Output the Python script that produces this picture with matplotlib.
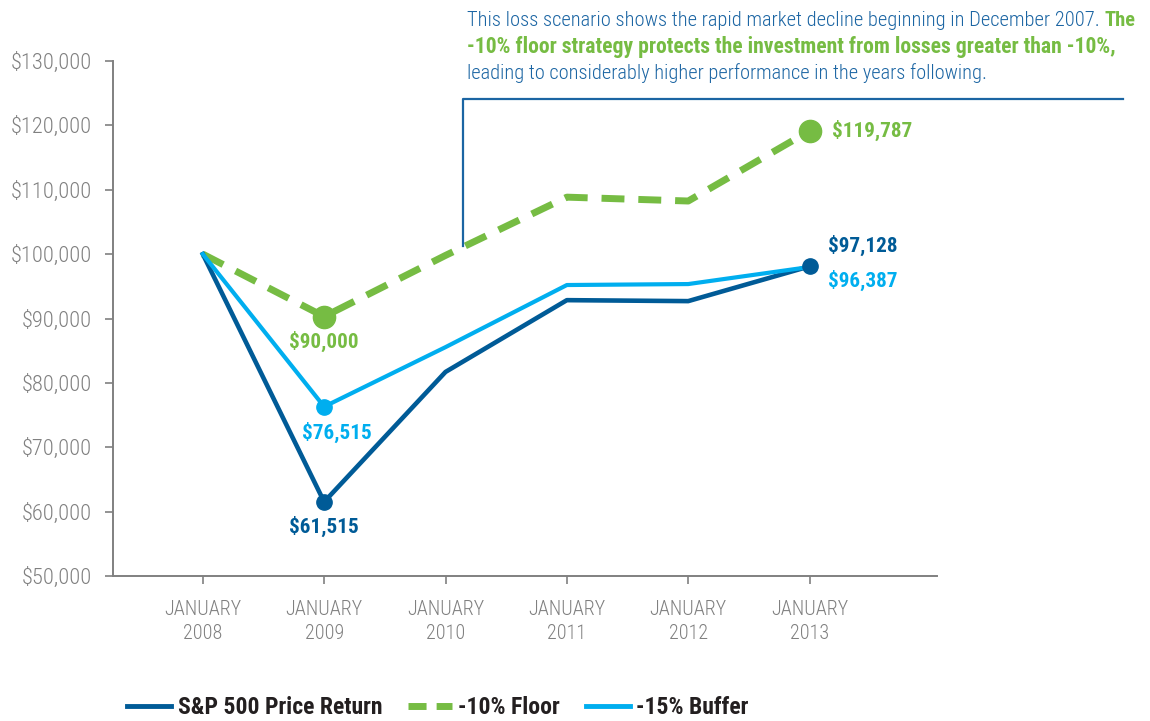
import matplotlib
matplotlib.use("Agg")
import matplotlib.pyplot as plt
from matplotlib.lines import Line2D

# ---------------- data ----------------
years = [2008, 2009, 2010, 2011, 2012, 2013]
tick_labels = ["JANUARY\n2008", "JANUARY\n2009", "JANUARY\n2010",
               "JANUARY\n2011", "JANUARY\n2012", "JANUARY\n2013"]
sp500 = [100000, 61515, 81700, 92850, 92700, 98100]
floor10 = [100000, 90300, 99800, 108850, 108250, 119150]
buffer15 = [100000, 76300, 85550, 95200, 95350, 98000]
yticks = [50000, 60000, 70000, 80000, 90000, 100000, 110000, 120000, 130000]

label_sp_low = "$61,515"
label_sp_end = "$97,128"
label_fl_low = "$90,000"
label_fl_end = "$119,787"
label_bf_low = "$76,515"
label_bf_end = "$96,387"

series_names = ["S&P 500 Price Return", "-10% Floor", "-15% Buffer"]

note_line1 = "This loss scenario shows the rapid market decline beginning in December 2007. "
note_line1_end = "The"
note_line2 = "-10% floor strategy protects the investment from losses greater than -10%,"
note_line3 = "leading to considerably higher performance in the years following."

# ---------------- style ----------------
C_SP = "#005b97"
C_FL = "#76bc43"
C_BF = "#00aeef"
C_TXT = "#1b65a3"
C_GREY = "#808080"

FAM = ["Roboto Condensed", "DejaVu Sans"]
plt.rcParams["font.family"] = FAM

W, H = 1150, 721
fig = plt.figure(figsize=(W / 100, H / 100), dpi=100)
ax = fig.add_axes([113 / W, 1 - 576 / H, (937 - 113) / W, (576 - 61) / H])

ax.set_xlim(2007.26, 2014.05)
ax.set_ylim(50000, 130000)

ax.plot(years, sp500, color=C_SP, lw=3.3, zorder=3)
ax.plot(years, buffer15, color=C_BF, lw=3.0, zorder=3)
fl_line, = ax.plot(years, floor10, color=C_FL, lw=5, zorder=2)
fl_line.set_dashes((3.3, 2.0))

# markers
ax.plot([years[1], years[5]], [sp500[1], sp500[5]], "o", color=C_SP, ms=11, zorder=5)
ax.plot([years[1]], [buffer15[1]], "o", color=C_BF, ms=11, zorder=4)
ax.plot([years[1], years[5]], [floor10[1], floor10[5]], "o", color=C_FL, ms=16, zorder=4)

def lab(txt, x, y, dx, dy, color, ha="center"):
    ax.annotate(txt, (x, y), xytext=(dx, dy), textcoords="offset pixels",
                ha=ha, va="center", color=color, fontsize=15.2, fontweight="bold",
                annotation_clip=False)

lab(label_fl_low, years[1], floor10[1], 0, -25, C_FL)
lab(label_bf_low, years[1], buffer15[1], 13, -26, C_BF)
lab(label_sp_low, years[1], sp500[1], 0, -25, C_SP)
lab(label_fl_end, years[5], floor10[5], 22, 0, C_FL, ha="left")
lab(label_sp_end, years[5], sp500[5], 18, 21, C_SP, ha="left")
lab(label_bf_end, years[5], sp500[5], 18, -14, C_BF, ha="left")

# axes styling
for s in ["top", "right"]:
    ax.spines[s].set_visible(False)
for s in ["left", "bottom"]:
    ax.spines[s].set_color(C_GREY)
    ax.spines[s].set_linewidth(1.4)
ax.set_yticks(yticks)
ax.set_yticklabels([f"${v:,.0f}" for v in yticks], fontweight="light")
ax.set_xticks(years)
ax.set_xticklabels(tick_labels, linespacing=1.38, fontweight="light")
ax.tick_params(axis="y", colors=C_GREY, labelcolor=C_GREY, labelsize=16.2,
               length=6, width=1.2, pad=9)
ax.tick_params(axis="x", colors=C_GREY, labelcolor=C_GREY, labelsize=14.5,
               length=6, width=1.2, pad=11)

# annotation bracket
fig.add_artist(Line2D([463 / W, 463 / W, 1123 / W], [1 - 246 / H, 1 - 99 / H, 1 - 99 / H],
                      transform=fig.transFigure, color=C_TXT, lw=1.6))

# annotation text
t1 = fig.text(467 / W, 1 - 26 / H, note_line1, color=C_TXT, fontsize=14.8,
              fontweight="light", va="baseline", ha="left")
ax.annotate(note_line1_end, xy=(1, 0), xycoords=t1, xytext=(0, 0),
            textcoords="offset pixels", va="bottom", ha="left", color=C_FL,
            fontsize=14.8, fontweight="bold", annotation_clip=False)
fig.text(467 / W, 1 - 53 / H, note_line2, color=C_FL, fontsize=15.6,
         fontweight="bold", va="baseline", ha="left")
fig.text(467 / W, 1 - 79 / H, note_line3, color=C_TXT, fontsize=14.7,
         fontweight="light", va="baseline", ha="left")

# legend
h1 = Line2D([], [], color=C_SP, lw=3.5)
h2 = Line2D([], [], color=C_FL, lw=5, dashes=(2.6, 1.45))
h3 = Line2D([], [], color=C_BF, lw=3.5)
leg = fig.legend([h1, h2, h3], series_names, loc="center",
                 bbox_to_anchor=(438 / W, 1 - 708 / H), ncol=3, frameon=False,
                 handlelength=1.85, handletextpad=0.28, columnspacing=1.1,
                 prop={"family": FAM, "weight": "bold", "size": 17})
for t in leg.get_texts():
    t.set_color("#231f20")

fig.savefig("out.png", dpi=100)
